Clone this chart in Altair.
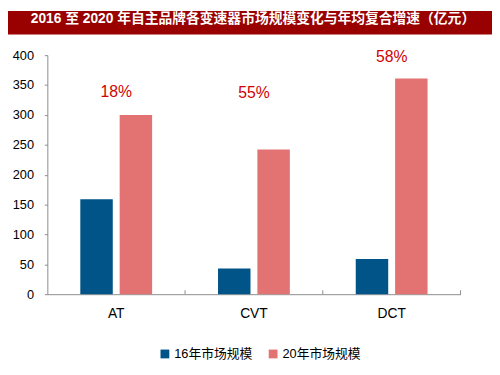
import altair as alt
import pandas as pd

categories = ["AT", "CVT", "DCT"]
series = ["16年市场规模", "20年市场规模"]
values_2016 = [159, 43, 59]
values_2020 = [300, 242, 361]
growth_labels = ["18%", "55%", "58%"]
label_heights = [338, 336, 397]
y_ticks = [0, 50, 100, 150, 200, 250, 300, 350, 400]
colors = ["#005487", "#E37373"]
title_text = "2016 至 2020 年自主品牌各变速器市场规模变化与年均复合增速（亿元）"

rows = []
for c, a, b in zip(categories, values_2016, values_2020):
    rows.append({"cat": c, "series": series[0], "value": a})
    rows.append({"cat": c, "series": series[1], "value": b})
bars_df = pd.DataFrame(rows)
labels_df = pd.DataFrame({"cat": categories, "label": growth_labels, "pos": label_heights})
cats_df = pd.DataFrame({"cat": categories})

FONT = "Liberation Sans, Arial, Noto Sans CJK SC"
AXIS_GRAY = "#8c8c8c"

x_scale = alt.Scale(domain=categories, paddingInner=0, paddingOuter=0)
y_scale = alt.Scale(domain=[0, 400])

x_axis = alt.Axis(title=None, labelAngle=0, ticks=False, labelPadding=13,
                  labelFontSize=14, labelColor="#000", labelFont=FONT,
                  domainColor=AXIS_GRAY)
y_axis = alt.Axis(title=None, values=y_ticks, grid=False, tickSize=3, labelPadding=11,
                  labelFontSize=13, labelColor="#000", labelFont=FONT,
                  domainColor=AXIS_GRAY, tickColor=AXIS_GRAY)

title_bar = alt.Chart(alt.Data(values=[{"part": "bar"}])).mark_rule(
    color="#990000", strokeWidth=24, strokeCap="butt"
).encode(x=alt.value(-40), x2=alt.value(452), y=alt.value(-33))

title_mark = alt.Chart(alt.Data(values=[{"t": title_text}])).mark_text(
    color="white", fontSize=14, fontWeight="bold", font=FONT, baseline="middle", align="center"
).encode(x=alt.value(209), y=alt.value(-37), text="t:N")

bars = alt.Chart(bars_df).mark_bar().encode(
    x=alt.X("cat:N", scale=x_scale, sort=categories, axis=x_axis),
    xOffset=alt.XOffset("series:N", sort=series,
                        scale=alt.Scale(domain=series, paddingInner=0.175, paddingOuter=0.8375)),
    y=alt.Y("value:Q", scale=y_scale, axis=y_axis),
    color=alt.Color(
        "series:N", sort=series, scale=alt.Scale(domain=series, range=colors),
        legend=alt.Legend(title=None, orient="none", legendX=113, legendY=297,
                          direction="horizontal", symbolType="square", symbolSize=80,
                          symbolStrokeWidth=0, labelFontSize=13, labelFont=FONT,
                          labelColor="#000", columnPadding=14, labelOffset=3, padding=0),
    ),
)

labels = alt.Chart(labels_df).mark_text(
    color="#D00000", fontSize=16, font=FONT, baseline="middle", align="center"
).encode(
    x=alt.X("cat:N", scale=x_scale, sort=categories, axis=x_axis),
    y=alt.Y("pos:Q", scale=y_scale, axis=y_axis),
    text="label:N",
)

ticks = alt.Chart(cats_df).mark_rule(color=AXIS_GRAY).encode(
    x=alt.X("cat:N", scale=x_scale, sort=categories, bandPosition=1, axis=x_axis),
    y=alt.value(239), y2=alt.value(243),
)

chart = alt.layer(title_bar, bars, labels, ticks, title_mark).properties(
    width=420, height=243,
    padding={"left": 40, "top": 45, "right": 32, "bottom": 67},
    autosize=alt.AutoSizeParams(type="none"),
).configure_view(stroke=None)

chart.save("out.html", embed_options={"renderer": "svg", "actions": False})
